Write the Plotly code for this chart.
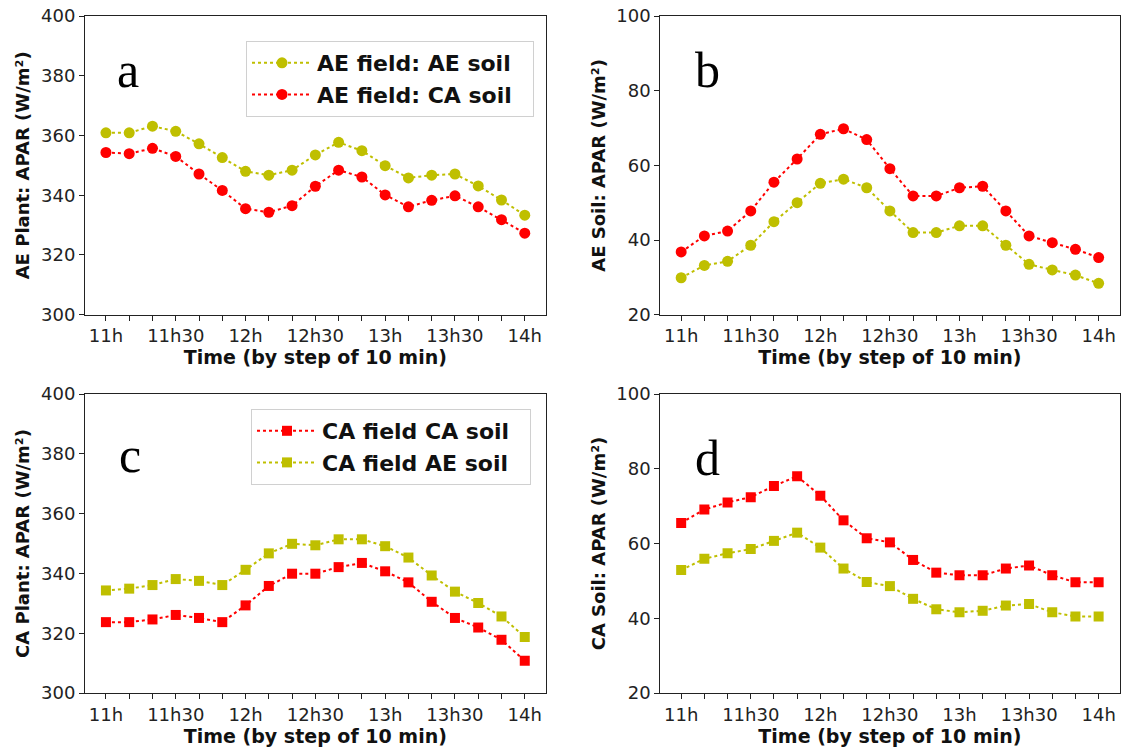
import plotly.graph_objects as go

W, H = 1121, 749

steps = list(range(19))
tick_labels = ["11h", "", "", "11h30", "", "", "12h", "", "", "12h30", "", "", "13h", "", "", "13h30", "", "", "14h"]

# Panel a: AE plant APAR
a_ae_soil = [360.9, 360.9, 363.1, 361.4, 357.2, 352.6, 348.0, 346.7, 348.4, 353.5, 357.7, 354.9, 349.9, 345.8, 346.7, 347.1, 343.1, 338.4, 333.3]
a_ca_soil = [354.3, 353.9, 355.7, 353.0, 347.1, 341.6, 335.5, 334.3, 336.5, 343.0, 348.4, 346.1, 340.1, 336.1, 338.3, 339.8, 336.1, 331.8, 327.3]
# Panel b: AE soil APAR
b_ca_soil = [36.8, 41.1, 42.4, 47.8, 55.5, 61.7, 68.3, 69.8, 66.9, 59.1, 51.8, 51.8, 54.0, 54.4, 47.8, 41.1, 39.3, 37.5, 35.3]
b_ae_soil = [29.9, 33.2, 34.3, 38.6, 44.9, 50.0, 55.2, 56.3, 54.0, 47.8, 42.0, 42.0, 43.8, 43.8, 38.6, 33.5, 32.0, 30.6, 28.4]
# Panel c: CA plant APAR
c_ca_soil = [323.7, 323.7, 324.6, 326.1, 325.1, 323.7, 329.3, 335.8, 339.9, 339.9, 342.1, 343.5, 340.7, 337.0, 330.5, 325.1, 321.9, 317.8, 310.8]
c_ae_soil = [334.3, 334.9, 336.1, 338.1, 337.5, 336.1, 341.2, 346.7, 349.9, 349.4, 351.4, 351.4, 349.1, 345.3, 339.3, 333.9, 330.1, 325.6, 318.7]
# Panel d: CA soil APAR
d_ca_soil = [65.5, 69.1, 71.0, 72.4, 75.4, 78.0, 72.8, 66.2, 61.4, 60.3, 55.6, 52.2, 51.5, 51.5, 53.3, 54.1, 51.5, 49.6, 49.6]
d_ae_soil = [52.9, 55.9, 57.4, 58.5, 60.7, 62.9, 58.9, 53.3, 49.7, 48.6, 45.2, 42.4, 41.6, 42.0, 43.4, 43.8, 41.6, 40.5, 40.5]

YELLOW = "#bfbf00"
RED = "#ff0000"


def fx(px):
    return px / W


def fy(py):
    return 1 - py / H


fig = go.Figure()


def add(x_axis, y_axis, y, name, color, symbol, legend="legend", show=False):
    fig.add_trace(go.Scatter(
        x=steps, y=y, name=name, mode="lines+markers",
        line=dict(color=color, dash="dot", width=2),
        marker=dict(color=color, symbol=symbol, size=11 if symbol == "circle" else 10),
        xaxis=x_axis, yaxis=y_axis, showlegend=show, legend=legend,
    ))


PAD = "\u00a0\u00a0"
add("x", "y", a_ae_soil, "AE field: AE soil" + PAD, YELLOW, "circle", "legend", True)
add("x", "y", a_ca_soil, "AE field: CA soil" + PAD, RED, "circle", "legend", True)
add("x2", "y2", b_ca_soil, "AE soil: CA", RED, "circle")
add("x2", "y2", b_ae_soil, "AE soil: AE", YELLOW, "circle")
add("x3", "y3", c_ca_soil, "CA field CA soil" + PAD, RED, "square", "legend2", True)
add("x3", "y3", c_ae_soil, "CA field AE soil" + PAD, YELLOW, "square", "legend2", True)
add("x4", "y4", d_ca_soil, "CA soil: CA", RED, "square")
add("x4", "y4", d_ae_soil, "CA soil: AE", YELLOW, "square")

xl = [fx(85), fx(545.7)]
xr = [fx(660.3), fx(1119.5)]
yt = [fy(314.7), fy(16)]
yb = [fy(693), fy(394)]

tickfont = dict(family="DejaVu Sans", size=18, color="#222222")
xtitlefont = dict(family="DejaVu Sans", size=19, color="#111111", weight="bold")
ytitlefont = dict(family="DejaVu Sans", size=18, color="#111111", weight="bold")


def xaxis(domain, anchor):
    return dict(domain=domain, anchor=anchor, range=[-0.9, 18.9], automargin=False,
                tickmode="array", tickvals=steps, ticktext=tick_labels,
                ticks="outside", ticklen=5, tickwidth=1, tickcolor="#222",
                showline=True, linecolor="#222", linewidth=1, mirror=True,
                showgrid=False, zeroline=False, tickfont=tickfont, ticklabeloverflow="allow",
                title=dict(text="Time (by step of 10 min)", font=xtitlefont, standoff=2))


def yaxis(domain, anchor, rng, dtick, title):
    return dict(domain=domain, anchor=anchor, range=rng, dtick=dtick, automargin=False,
                ticks="outside", ticklen=5, tickwidth=1, tickcolor="#222",
                showline=True, linecolor="#222", linewidth=1, mirror=True,
                showgrid=False, zeroline=False, tickfont=tickfont, ticklabeloverflow="allow",
                title=dict(text=title, font=ytitlefont, standoff=6))


legend_style = dict(bgcolor="rgba(255,255,255,0.9)", bordercolor="#d0d0d0", borderwidth=1,
                    font=dict(family="DejaVu Sans", size=22, color="#111", weight="bold"),
                    xanchor="right", yanchor="top", tracegroupgap=2, itemwidth=60)

fig.update_layout(
    template="none",
    width=W, height=H, margin=dict(l=0, r=0, t=0, b=0, autoexpand=False),
    paper_bgcolor="white", plot_bgcolor="white",
    xaxis=xaxis(xl, "y"), yaxis=yaxis(yt, "x", [300, 400], 20, "AE Plant: APAR (W/m²)"),
    xaxis2=xaxis(xr, "y2"), yaxis2=yaxis(yt, "x2", [20, 100], 20, "AE Soil: APAR (W/m²)"),
    xaxis3=xaxis(xl, "y3"), yaxis3=yaxis(yb, "x3", [300, 400], 20, "CA Plant: APAR (W/m²)"),
    xaxis4=xaxis(xr, "y4"), yaxis4=yaxis(yb, "x4", [20, 100], 20, "CA Soil: APAR (W/m²)"),
    legend=dict(x=fx(534), y=fy(41), **legend_style),
    legend2=dict(x=fx(531), y=fy(409), **legend_style),
)

letters = [("a", 128, 70), ("b", 707, 70), ("c", 130, 455), ("d", 707, 458)]
for txt, px, py in letters:
    fig.add_annotation(text=txt, x=fx(px), y=fy(py), xref="paper", yref="paper",
                       showarrow=False, xanchor="center", yanchor="middle",
                       font=dict(family="Liberation Serif", size=50, color="black"))

fig.write_html("out.html", config={"displayModeBar": False},
               post_script="document.body.style.margin='0';document.body.style.overflow='hidden';")
